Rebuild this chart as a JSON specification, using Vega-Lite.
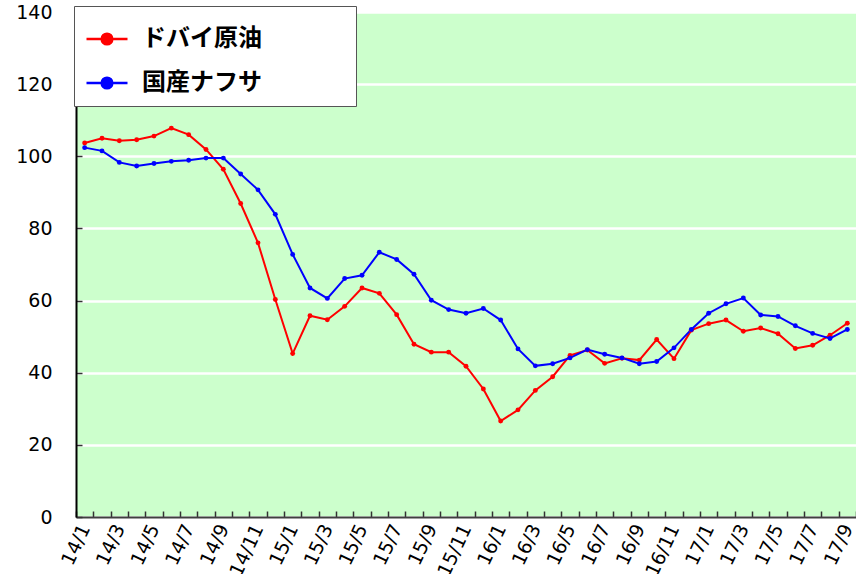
{
  "$schema": "https://vega.github.io/schema/vega-lite/v6.json",
  "width": 780,
  "height": 505,
  "autosize": {"type": "none"},
  "padding": {"left": 76, "top": 12, "right": 0, "bottom": 57},
  "background": "white",
  "data": {"values": [
    {"m":"14/1","ドバイ原油":103.7,"国産ナフサ":102.4},
    {"m":"14/2","ドバイ原油":105.0,"国産ナフサ":101.5},
    {"m":"14/3","ドバイ原油":104.3,"国産ナフサ":98.3},
    {"m":"14/4","ドバイ原油":104.6,"国産ナフサ":97.3},
    {"m":"14/5","ドバイ原油":105.6,"国産ナフサ":98.0},
    {"m":"14/6","ドバイ原油":107.8,"国産ナフサ":98.6},
    {"m":"14/7","ドバイ原油":106.0,"国産ナフサ":98.9},
    {"m":"14/8","ドバイ原油":101.9,"国産ナフサ":99.5},
    {"m":"14/9","ドバイ原油":96.4,"国産ナフサ":99.5},
    {"m":"14/10","ドバイ原油":86.9,"国産ナフサ":95.1},
    {"m":"14/11","ドバイ原油":76.0,"国産ナフサ":90.7},
    {"m":"14/12","ドバイ原油":60.3,"国産ナフサ":83.9},
    {"m":"15/1","ドバイ原油":45.3,"国産ナフサ":72.8},
    {"m":"15/2","ドバイ原油":55.8,"国産ナフサ":63.5},
    {"m":"15/3","ドバイ原油":54.7,"国産ナフサ":60.6},
    {"m":"15/4","ドバイ原油":58.4,"国産ナフサ":66.1},
    {"m":"15/5","ドバイ原油":63.5,"国産ナフサ":67.0},
    {"m":"15/6","ドバイ原油":62.0,"国産ナフサ":73.4},
    {"m":"15/7","ドバイ原油":56.1,"国産ナフサ":71.4},
    {"m":"15/8","ドバイ原油":47.9,"国産ナフサ":67.3},
    {"m":"15/9","ドバイ原油":45.7,"国産ナフサ":60.1},
    {"m":"15/10","ドバイ原油":45.7,"国産ナフサ":57.5},
    {"m":"15/11","ドバイ原油":41.8,"国産ナフサ":56.5},
    {"m":"15/12","ドバイ原油":35.5,"国産ナフサ":57.8},
    {"m":"16/1","ドバイ原油":26.6,"国産ナフサ":54.6},
    {"m":"16/2","ドバイ原油":29.7,"国産ナフサ":46.6},
    {"m":"16/3","ドバイ原油":35.1,"国産ナフサ":41.9},
    {"m":"16/4","ドバイ原油":38.9,"国産ナフサ":42.5},
    {"m":"16/5","ドバイ原油":44.8,"国産ナフサ":44.1},
    {"m":"16/6","ドバイ原油":46.3,"国産ナフサ":46.4},
    {"m":"16/7","ドバイ原油":42.6,"国産ナフサ":45.1},
    {"m":"16/8","ドバイ原油":44.0,"国産ナフサ":44.1},
    {"m":"16/9","ドバイ原油":43.5,"国産ナフサ":42.5},
    {"m":"16/10","ドバイ原油":49.2,"国産ナフサ":43.1},
    {"m":"16/11","ドバイ原油":43.9,"国産ナフサ":46.9},
    {"m":"16/12","ドバイ原油":51.8,"国産ナフサ":52.0},
    {"m":"17/1","ドバイ原油":53.6,"国産ナフサ":56.5},
    {"m":"17/2","ドバイ原油":54.6,"国産ナフサ":59.1},
    {"m":"17/3","ドバイ原油":51.5,"国産ナフサ":60.7},
    {"m":"17/4","ドバイ原油":52.4,"国産ナフサ":56.0},
    {"m":"17/5","ドバイ原油":50.8,"国産ナフサ":55.6},
    {"m":"17/6","ドバイ原油":46.7,"国産ナフサ":53.0},
    {"m":"17/7","ドバイ原油":47.6,"国産ナフサ":50.9},
    {"m":"17/8","ドバイ原油":50.4,"国産ナフサ":49.5},
    {"m":"17/9","ドバイ原油":53.7,"国産ナフサ":52.0}
  ]},
  "transform": [{"fold": ["ドバイ原油", "国産ナフサ"], "as": ["series", "value"]}],
  "mark": {"type": "line", "strokeWidth": 2, "point": {"filled": true, "size": 24}},
  "encoding": {
    "x": {
      "field": "m", "type": "ordinal", "sort": null,
      "scale": {"type": "band", "paddingInner": 0, "paddingOuter": 0},
      "axis": {
        "title": null,
        "labelAngle": -65,
        "labelAlign": "right",
        "labelBaseline": "middle",
        "labelExpr": "parseInt(split(datum.value,'/')[1]) % 2 == 1 ? datum.value : ''",
        "labelFont": "DejaVu Sans",
        "labelFontSize": 19,
        "labelColor": "black",
        "labelPadding": 14,
        "labelOverlap": false,
        "tickBand": "extent",
        "tickSize": -6,
        "tickColor": "#333333",
        "tickWidth": 1.5,
        "domainColor": "#404040",
        "domainWidth": 2,
        "grid": false
      }
    },
    "y": {
      "field": "value", "type": "quantitative",
      "scale": {"domain": [0, 140], "nice": false},
      "axis": {
        "title": null,
        "values": [0, 20, 40, 60, 80, 100, 120, 140],
        "labelFont": "DejaVu Sans",
        "labelFontSize": 19,
        "labelColor": "black",
        "labelPadding": 30,
        "tickSize": -6,
        "tickColor": "#333333",
        "tickWidth": 1.5,
        "domainColor": "black",
        "domainWidth": 2,
        "grid": true,
        "gridColor": "white",
        "gridWidth": 2.5,
        "gridOpacity": 1
      }
    },
    "color": {
      "field": "series", "type": "nominal",
      "scale": {"domain": ["ドバイ原油", "国産ナフサ"], "range": ["#FF0000", "#0000FF"]},
      "legend": {
        "title": "\u00a0",
        "titleOrient": "right",
        "titlePadding": 83,
        "titleFontSize": 2,
        "orient": "none",
        "legendX": -2,
        "legendY": -6,
        "direction": "vertical",
        "fillColor": "white",
        "strokeColor": "#555555",
        "padding": 11,
        "rowPadding": 10,
        "symbolType": "M-1,0L1,0M-0.26,0A0.26,0.26,0,1,0,0.26,0A0.26,0.26,0,1,0,-0.26,0Z",
        "symbolSize": 1681,
        "symbolStrokeWidth": 2.5,
        "labelFont": "Noto Sans CJK JP",
        "labelFontWeight": "bold",
        "labelFontSize": 24,
        "labelColor": "black",
        "labelOffset": 13,
        "labelLimit": 400,
        "encode": {"symbols": {"update": {"fill": {"scale": "color", "field": "value"}, "opacity": {"value": 1}}}}
      }
    }
  },
  "config": {
    "view": {"fill": "#CCFFCC", "stroke": "#999999"}
  }
}
